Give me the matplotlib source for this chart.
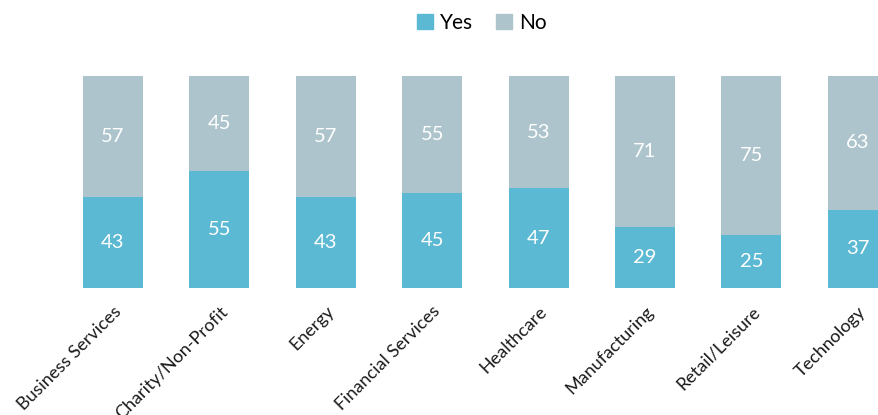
import matplotlib.pyplot as plt
from matplotlib.patches import Patch

plt.rcParams['font.family'] = ['Lato', 'DejaVu Sans']

sectors = ["Business Services", "Charity/Non-Profit", "Energy", "Financial Services",
           "Healthcare", "Manufacturing", "Retail/Leisure", "Technology"]
yes = [43, 55, 43, 45, 47, 29, 25, 37]
no = [57, 45, 57, 55, 53, 71, 75, 63]

yes_color = "#5bb9d3"
no_color = "#adc4cc"

fig = plt.figure(figsize=(8.79, 4.15), dpi=100)
ax = fig.add_axes([0, 1 - 288 / 415, 1, (288 - 76) / 415])

x = list(range(len(sectors)))
bw = 0.565
ax.bar(x, yes, width=bw, color=yes_color)
ax.bar(x, no, width=bw, bottom=yes, color=no_color)

for i in x:
    ax.text(i, yes[i] / 2, str(yes[i]), ha="center", va="center",
            color="white", fontsize=14.5)
    ax.text(i, yes[i] + no[i] / 2, str(no[i]), ha="center", va="center",
            color="white", fontsize=14.5)

ax.set_xlim(-113 / 106.4, (879 - 113) / 106.4)
ax.set_ylim(0, 100)
ax.set_xticks(x)
ax.set_xticklabels(sectors, rotation=45, ha="right", rotation_mode="anchor",
                   fontsize=13, color="#1a1a1a")
ax.tick_params(axis="x", length=0, pad=11)
ax.set_yticks([])
for s in ax.spines.values():
    s.set_visible(False)

handles = [Patch(color=yes_color, label="Yes"), Patch(color=no_color, label="No")]
fig.legend(handles=handles, loc="center", bbox_to_anchor=(0.548, 1 - 23 / 415),
           ncol=2, frameon=False, fontsize=15, handlelength=0.75, handleheight=0.75,
           handletextpad=0.35, columnspacing=1.1)

fig.savefig("out.png", dpi=100)
